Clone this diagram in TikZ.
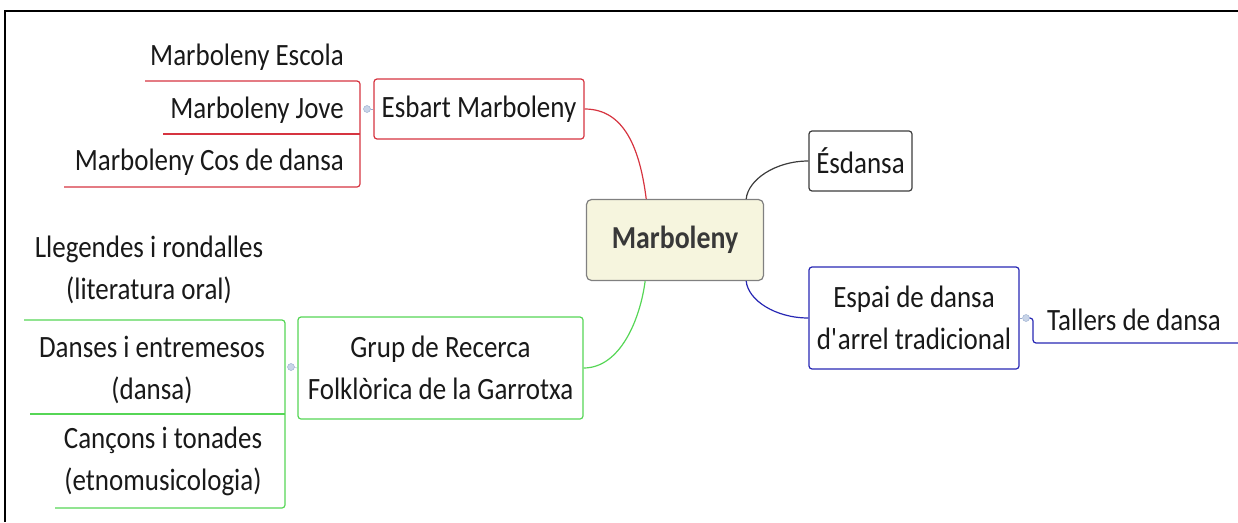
\documentclass[tikz,border=0pt]{standalone}
\usepackage{fontspec}
\setmainfont{Carlito}[FakeStretch=0.87]
\definecolor{redline}{RGB}{214,52,64}
\definecolor{greenline}{RGB}{86,214,86}
\definecolor{blueline}{RGB}{40,40,180}
\definecolor{greyline}{RGB}{60,60,60}
\definecolor{rootfill}{RGB}{246,245,222}
\definecolor{dotfill}{RGB}{200,212,232}
\definecolor{dotline}{RGB}{150,170,205}
\definecolor{txt}{RGB}{25,25,25}
\begin{document}
\begin{tikzpicture}[x=1pt,y=-1pt,
  every node/.style={font=\fontsize{31}{42}\selectfont,text=txt},
  topic/.style={draw=#1,line width=1.2pt,rounded corners=3pt,fill=white,align=center,inner sep=0pt},
  branch/.style={draw=#1,line width=1.2pt},
  leaf/.style={inner sep=0pt,align=center},
  dot/.style={circle,draw=dotline,fill=dotfill,minimum size=7pt,inner sep=0pt}]
\useasboundingbox (0,0) rectangle (1238,522);
\draw[line width=2pt] (5,522)--(5,11)--(1238,11);

\node[draw=gray,line width=1.2pt,rounded corners=5pt,fill=rootfill,minimum width=177pt,minimum height=81pt,
  font=\fontsize{32}{36}\selectfont\bfseries,text=black!78] (root) at (675,240) {Marboleny};

\node[topic=redline,minimum width=210pt,minimum height=60pt] (esbart) at (479,109) {Esbart Marboleny};
\node[topic=greyline,minimum width=103pt,minimum height=60pt] (esdansa) at (860.5,161) {Ésdansa};
\node[topic=blueline,minimum width=210pt,minimum height=102pt] (espai) at (914,318) {Espai de dansa\\d\textquotesingle arrel tradicional};
\node[topic=greenline,minimum width=285pt,minimum height=102pt] (grup) at (440.5,368) {Grup de Recerca\\Folklòrica de la Garrotxa};

\draw[branch=redline] (esbart.east) .. controls (625,109) and (640,150) .. (root.125);
\draw[branch=greyline] (root.30) .. controls (748,180) and (775,161) .. (esdansa.west);
\draw[branch=blueline] (root.-30) .. controls (748,300) and (775,318) .. (espai.west);
\draw[branch=greenline] (grup.east) .. controls (620,368) and (640,320) .. (root.-126);

% Esbart Marboleny
\node[leaf,anchor=east] (escola) at (344,57) {Marboleny Escola};
\node[leaf,anchor=east] (jove) at (344,110) {Marboleny Jove};
\node[leaf,anchor=east] (cos) at (344,162) {Marboleny Cos de dansa};
\node[dot] (esbartdot) at (367,109) {};
\coordinate (redfork) at (360,109);
\coordinate (escolaend) at (145,81);
\coordinate (joveend) at (163,134);
\coordinate (cosend) at (64,187);
\draw[dotline] (esbartdot) -- (esbart.west);
\draw[branch=redline,rounded corners=3pt] (escolaend) -- (escolaend -| redfork) -- (cosend -| redfork) -- (cosend);
\draw[branch=redline] (joveend) -- (joveend -| redfork);

% Grup de Recerca
\node[leaf] (llegendes) at (149,270) {Llegendes i rondalles\\(literatura oral)};
\node[leaf] (danses) at (152,370) {Danses i entremesos\\(dansa)};
\node[leaf] (cansons) at (163,461) {Cançons i tonades\\(etnomusicologia)};
\node[dot] (grupdot) at (291,367) {};
\coordinate (greenfork) at (285,367);
\coordinate (llegendesend) at (24,320);
\coordinate (dansesend) at (30,414);
\coordinate (cansonsend) at (55,508);
\draw[dotline] (grupdot) -- (grup.west);
\draw[branch=greenline,rounded corners=3pt] (llegendesend) -- (llegendesend -| greenfork) -- (cansonsend -| greenfork) -- (cansonsend);
\draw[branch=greenline] (dansesend) -- (dansesend -| greenfork);

% Espai de dansa
\node[leaf,anchor=west] (tallers) at (1047,320) {Tallers de dansa};
\node[dot] (espaidot) at (1026,318) {};
\coordinate (bluefork) at (1033,318);
\coordinate (tallersend) at (1238,343);
\draw[dotline] (espai.east) -- (espaidot);
\draw[branch=blueline,rounded corners=3pt] (espaidot) -- (bluefork) -- (tallersend -| bluefork) -- (tallersend);
\end{tikzpicture}
\end{document}
